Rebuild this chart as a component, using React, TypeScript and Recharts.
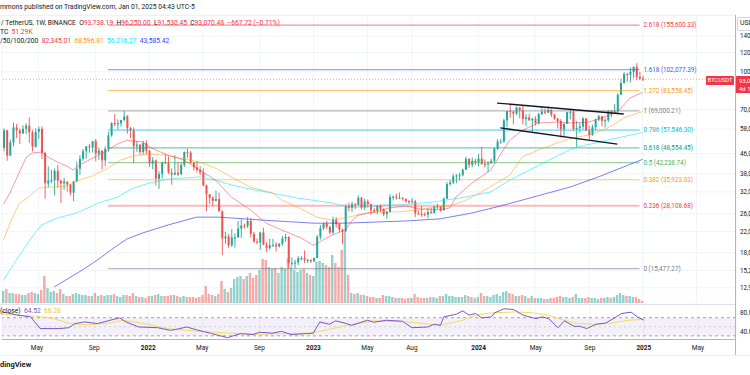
import React from 'react'
import { ComposedChart, Bar, Line, XAxis, YAxis, CartesianGrid, ReferenceLine, ReferenceArea } from 'recharts'

const FONT = 'Roboto, "Noto Sans", sans-serif'

// weekly BTCUSDT candles, [open, high, low, close] in thousand USD, weeks from Feb 15 2021
const candles2021 = [
  [48.6, 58.4, 47.0, 57.4], [57.4, 57.5, 43.0, 45.2], [45.2, 52.6, 45.0, 51.2], [51.2, 61.8, 49.3, 59.0],
  [59.0, 61.0, 53.3, 57.3], [57.3, 58.4, 50.4, 55.8], [55.8, 60.2, 55.5, 58.2], [58.2, 61.3, 55.5, 60.0],
  [60.0, 64.9, 51.0, 56.2], [56.2, 57.5, 47.0, 49.1], [49.1, 58.5, 48.8, 56.6], [56.6, 59.5, 52.9, 58.2],
  [58.2, 59.6, 43.8, 46.4], [46.4, 46.6, 30.0, 34.7], [34.7, 40.8, 33.4, 35.7], [35.7, 39.5, 34.8, 35.8],
  [35.8, 40.0, 31.0, 39.1], [39.1, 41.3, 33.3, 35.6], [35.6, 36.0, 28.8, 34.7], [34.7, 36.6, 32.7, 35.3],
  [35.3, 35.3, 32.1, 34.3], [34.3, 34.6, 31.0, 31.8], [31.8, 35.4, 29.3, 35.4], [35.4, 42.6, 35.2, 39.9],
  [39.9, 45.3, 37.6, 43.8], [43.8, 48.1, 43.0, 47.1], [47.1, 49.4, 43.9, 49.3], [49.3, 50.5, 46.4, 48.8],
  [48.8, 51.9, 46.5, 51.8], [51.8, 52.9, 42.8, 46.0], [46.0, 48.8, 43.4, 47.3], [47.3, 47.4, 39.6, 43.2],
  [43.2, 49.2, 40.8, 48.2], [48.2, 56.6, 46.9, 54.7], [54.7, 62.0, 54.0, 61.5], [61.5, 67.0, 59.5, 61.0],
  [61.0, 63.7, 57.8, 61.3], [61.3, 63.3, 59.4, 63.3], [63.3, 69.0, 62.3, 65.5], [65.5, 66.3, 55.6, 58.6],
  [58.6, 59.3, 53.3, 57.3], [57.3, 59.0, 42.0, 49.4], [49.4, 51.9, 46.8, 50.1], [50.1, 50.5, 45.5, 46.7],
  [46.7, 51.9, 45.6, 50.8], [50.8, 52.1, 45.7, 47.3],
]
const candles2022 = [
  [47.3, 47.6, 40.6, 41.9], [41.9, 44.5, 39.7, 43.1], [43.1, 43.5, 34.0, 36.3], [36.3, 38.9, 32.9, 37.9],
  [37.9, 42.6, 36.3, 42.4], [42.4, 45.8, 41.7, 42.2], [42.2, 44.8, 38.0, 38.4], [38.4, 40.0, 34.3, 37.7],
  [37.7, 45.4, 37.5, 38.4], [38.4, 42.6, 37.1, 37.8], [37.8, 42.4, 37.6, 41.3], [41.3, 46.9, 40.5, 46.8],
  [46.8, 48.2, 44.2, 46.4], [46.4, 47.2, 41.9, 42.2], [42.2, 42.4, 39.2, 40.4], [40.4, 42.9, 38.5, 39.5],
  [39.5, 40.8, 37.6, 38.5], [38.5, 40.0, 33.7, 34.1], [34.1, 34.3, 26.7, 31.3], [31.3, 31.3, 28.6, 30.3],
  [30.3, 30.7, 28.0, 29.4], [29.4, 32.4, 29.3, 29.9], [29.9, 31.8, 26.6, 26.6], [26.6, 26.9, 17.6, 20.6],
  [20.6, 21.9, 19.6, 21.0], [21.0, 21.5, 18.8, 19.3], [19.3, 22.5, 19.0, 20.8], [20.8, 21.6, 18.9, 20.8],
  [20.8, 24.3, 20.7, 22.6], [22.6, 24.7, 20.7, 23.3], [23.3, 23.7, 22.6, 23.2], [23.2, 25.2, 22.7, 24.3],
  [24.3, 25.0, 20.8, 21.5], [21.5, 21.9, 19.8, 20.0], [20.0, 20.6, 19.5, 19.8], [19.8, 21.9, 18.5, 21.8],
  [21.8, 22.8, 19.3, 19.4], [19.4, 19.9, 18.1, 18.8], [18.8, 20.5, 18.5, 19.3], [19.3, 20.5, 19.0, 19.4],
  [19.4, 19.9, 18.2, 19.1], [19.1, 19.7, 18.9, 19.6], [19.6, 21.1, 19.2, 20.6], [20.6, 21.5, 20.0, 20.9],
  [20.9, 21.0, 15.6, 16.3], [16.3, 17.2, 15.8, 16.3], [16.3, 16.8, 15.5, 16.4], [16.4, 17.4, 16.0, 17.1],
  [17.1, 17.4, 16.7, 17.1], [17.1, 18.4, 16.3, 16.8], [16.8, 17.0, 16.3, 16.8], [16.8, 16.9, 16.3, 16.6],
]
const candles2023 = [
  [16.6, 17.2, 16.5, 17.1], [17.1, 21.3, 17.1, 20.9], [20.9, 23.4, 20.4, 22.7], [22.7, 23.9, 22.3, 23.7],
  [23.7, 24.3, 22.5, 23.0], [23.0, 23.2, 21.4, 21.8], [21.8, 25.3, 21.4, 24.6], [24.6, 25.2, 22.8, 23.6],
  [23.6, 23.9, 21.9, 22.4], [22.4, 22.6, 19.5, 22.1], [22.1, 28.4, 21.9, 28.0], [28.0, 28.9, 26.6, 27.5],
  [27.5, 29.2, 26.5, 28.5], [28.5, 28.8, 27.2, 28.3], [28.3, 31.0, 28.2, 30.3], [30.3, 30.5, 27.1, 27.6],
  [27.6, 30.0, 26.9, 29.2], [29.2, 29.8, 27.7, 28.5], [28.5, 28.6, 25.8, 26.9], [26.9, 27.6, 26.3, 26.8],
  [26.8, 28.2, 25.9, 28.1], [28.1, 28.4, 26.5, 27.2], [27.2, 27.4, 25.4, 25.9], [25.9, 26.8, 24.8, 26.5],
  [26.5, 31.4, 26.3, 30.5], [30.5, 31.0, 29.5, 30.6], [30.6, 31.5, 29.7, 30.3], [30.3, 31.8, 29.9, 30.3],
  [30.3, 30.4, 29.5, 30.0], [30.0, 30.0, 28.9, 29.3], [29.3, 29.7, 28.6, 29.0], [29.0, 30.2, 28.7, 29.3],
  [29.3, 29.7, 25.2, 26.1], [26.1, 26.8, 25.8, 26.0], [26.0, 28.1, 25.3, 25.9], [25.9, 26.4, 25.4, 25.8],
  [25.8, 27.5, 24.9, 26.5], [26.5, 27.5, 26.0, 26.2], [26.2, 28.0, 26.0, 27.9], [27.9, 28.6, 27.2, 27.9],
  [27.9, 28.0, 26.5, 26.9], [26.9, 30.4, 26.8, 30.0], [30.0, 35.2, 29.9, 34.5], [34.5, 35.9, 33.9, 35.0],
  [35.0, 38.0, 34.5, 37.1], [37.1, 37.9, 34.8, 37.4], [37.4, 38.4, 35.6, 37.5], [37.5, 39.9, 37.1, 39.5],
  [39.5, 44.7, 39.4, 43.8], [43.8, 44.0, 40.2, 41.4], [41.4, 44.4, 40.5, 43.0], [43.0, 43.8, 41.3, 42.3],
]
const candles2024 = [
  [42.3, 45.9, 40.8, 43.9], [43.9, 49.0, 41.5, 41.7], [41.7, 43.6, 40.3, 41.6], [41.6, 42.8, 38.6, 42.0],
  [42.0, 43.9, 41.8, 43.0], [43.0, 48.6, 42.3, 48.3], [48.3, 52.8, 47.7, 51.6], [51.6, 52.9, 50.5, 51.7],
  [51.7, 64.0, 50.9, 63.1], [63.1, 69.0, 59.0, 68.9], [68.9, 73.8, 64.5, 68.4], [68.4, 68.9, 60.8, 67.2],
  [67.2, 71.8, 66.4, 71.3], [71.3, 71.3, 64.5, 69.4], [69.4, 72.8, 60.7, 63.9], [63.9, 66.9, 59.6, 64.9],
  [64.9, 67.2, 62.8, 63.1], [63.1, 64.7, 56.5, 64.0], [64.0, 65.5, 60.2, 61.5], [61.5, 67.7, 60.7, 66.9],
  [66.9, 71.9, 66.3, 68.5], [68.5, 70.6, 66.7, 67.8], [67.8, 72.0, 67.6, 69.6], [69.6, 70.2, 65.1, 66.6],
  [66.6, 67.0, 63.4, 64.2], [64.2, 64.5, 58.4, 62.7], [62.7, 63.8, 53.5, 58.0], [58.0, 61.4, 54.3, 61.0],
  [61.0, 68.4, 61.0, 68.2], [68.2, 69.4, 63.5, 68.3], [68.3, 70.1, 57.1, 58.1], [58.1, 62.7, 49.0, 58.7],
  [58.7, 61.8, 56.1, 59.5], [59.5, 65.0, 57.9, 64.2], [64.2, 64.5, 57.2, 57.3], [57.3, 59.8, 52.6, 54.8],
  [54.8, 60.6, 54.6, 59.1], [59.1, 64.1, 57.5, 63.6], [63.6, 66.5, 62.7, 65.6], [65.6, 65.6, 59.8, 62.8],
  [62.8, 64.5, 58.9, 63.2], [63.2, 69.4, 62.0, 69.0], [69.0, 69.5, 65.1, 67.9], [67.9, 73.6, 67.5, 68.8],
  [68.8, 81.5, 66.8, 80.4], [80.4, 93.3, 80.2, 89.8], [89.8, 99.6, 89.4, 97.9], [97.9, 98.9, 90.8, 97.2],
  [97.2, 104.1, 90.5, 99.8], [99.8, 105.3, 94.2, 104.5], [104.5, 108.4, 92.2, 95.2], [95.2, 99.9, 92.6, 93.74],
  [93.74, 96.25, 91.53, 93.07],
]

// weekly volume, thousand BTC
const volume2021 = [300, 350, 250, 250, 225, 225, 200, 200, 250, 275, 250, 225, 325, 675, 375, 275, 300, 250, 350, 225,
  175, 175, 225, 250, 225, 200, 200, 175, 175, 250, 175, 200, 175, 200, 200, 225, 175, 150, 200, 200, 175, 250, 175, 150, 150, 125]
const volume2022 = [175, 175, 200, 225, 175, 175, 175, 200, 200, 175, 150, 175, 150, 150, 150, 125, 150, 200, 425, 225,
  200, 175, 225, 550, 350, 275, 375, 600, 650, 675, 600, 675, 750, 625, 700, 825, 1100, 1075, 900, 850,
  875, 750, 900, 850, 1125, 900, 825, 775, 825, 850, 750, 700]
const volume2023 = [675, 1025, 1050, 1000, 950, 900, 1200, 1000, 900, 1325, 1800, 700, 250, 225, 250, 200, 200, 175, 150, 150,
  125, 125, 200, 175, 175, 150, 125, 125, 125, 100, 125, 125, 225, 150, 125, 125, 125, 150, 150, 125,
  175, 175, 225, 175, 175, 150, 150, 150, 200, 175, 150, 125]
const volume2024 = [150, 250, 175, 175, 150, 200, 225, 175, 275, 300, 250, 225, 175, 175, 200, 175, 125, 175, 125, 125,
  125, 100, 100, 125, 125, 150, 175, 150, 150, 125, 150, 225, 125, 125, 125, 150, 125, 125, 100, 125,
  125, 150, 125, 150, 200, 250, 200, 175, 175, 150, 150, 100, 51.29]

// moving averages, [week, thousand USD]
const ma20 = [[0, 28.5], [2, 31.7], [5, 38.6], [7, 44.1], [9, 46.3], [12, 46.7], [14, 44.6], [17, 42.5], [20, 40.9], [22, 39.4],
  [24, 41.3], [27, 43.3], [30, 45.4], [33, 47.6], [36, 50.4], [39, 52.3], [41, 51.8], [44, 51.4], [46, 49.0], [49, 47.1],
  [52, 45.4], [57, 43.3], [62, 39.4], [67, 35.8], [72, 30.5], [78, 27.0], [83, 23.8], [88, 22.3], [94, 20.7], [98, 19.3],
  [101, 20.3], [104, 21.3], [108, 22.3], [110, 24.3], [112, 25.7], [117, 26.5], [122, 27.5], [127, 28.0], [132, 27.2],
  [138, 27.0], [141, 27.5], [143, 30.5], [148, 34.8], [154, 39.4], [157, 45.5], [160, 52.3], [164, 57.5], [169, 61.5],
  [175, 62.1], [180, 61.5], [185, 62.1], [189, 64.5], [194, 68.2], [198, 77.9], [202, 82.35]]
const ma50 = [[0, 20.3], [2, 23.8], [5, 28.8], [8, 30.5], [11, 33.2], [15, 33.5], [20, 33.8], [24, 35.8], [28, 37.2], [33, 40.1],
  [37, 43.3], [41, 45.0], [46, 45.8], [51, 45.4], [62, 42.5], [67, 40.1], [72, 36.9], [78, 33.5], [85, 31.7], [88, 29.6],
  [93, 27.7], [99, 25.2], [104, 24.5], [109, 25.2], [115, 26.2], [120, 26.5], [125, 26.5], [131, 27.0], [136, 27.7],
  [141, 28.0], [146, 29.5], [151, 32.0], [154, 33.7], [160, 37.5], [164, 44.6], [169, 47.6], [175, 50.9], [180, 53.4],
  [185, 54.9], [191, 58.7], [196, 64.5], [202, 68.6]]
const ma100 = [[0, 13.9], [4, 16.8], [9, 20.9], [12, 23.4], [17, 25.0], [23, 26.2], [30, 28.8], [36, 30.5], [41, 33.2],
  [46, 34.8], [52, 36.2], [57, 36.5], [62, 36.9], [67, 35.8], [72, 34.2], [78, 32.9], [93, 30.2], [104, 28.8], [109, 27.7],
  [115, 27.7], [120, 28.3], [125, 28.3], [136, 29.1], [146, 30.5], [154, 32.0], [160, 35.8], [168, 40.5], [180, 48.5],
  [194, 53.4], [202, 56.2]]
const ma200 = [[16, 13.0], [25, 15.3], [30, 16.9], [34, 18.5], [39, 20.5], [44, 21.7], [52, 23.4], [61, 25.2], [68, 25.2],
  [82, 24.5], [98, 23.8], [108, 23.8], [127, 24.3], [138, 24.8], [148, 26.2], [157, 28.0], [179, 33.5], [188, 36.9], [202, 43.6]]

// RSI 14 and its moving average, [week, value]
const rsi = [[0, 83], [5, 75.6], [9, 71.8], [12, 46], [18, 46], [21, 48], [23, 57], [26, 60.7], [30, 57], [34, 64.4],
  [37, 69.6], [39, 60.7], [43, 49.6], [49, 48], [53, 42], [56, 46], [58, 49.6], [62, 42], [66, 35], [71, 26], [75, 35],
  [79, 33], [81, 38], [85, 36], [88, 40], [91, 33], [96, 35], [98, 36], [100, 60.7], [103, 55.6], [105, 63], [108, 58],
  [110, 53], [115, 64.4], [117, 60], [121, 64.4], [126, 62.2], [129, 48], [134, 49.6], [136, 55.6], [138, 53.3],
  [139, 71.8], [143, 77.8], [145, 85.1], [147, 75.6], [149, 79.3], [151, 69.6], [154, 71.8], [155, 80.7], [158, 89.6],
  [161, 88.1], [164, 75.6], [168, 68.1], [170, 71.8], [172, 68.1], [175, 48], [177, 63], [180, 51.1], [182, 51.1],
  [184, 46], [187, 55.6], [190, 58.4], [193, 70.4], [195, 79.3], [198, 82.2], [200, 71.8], [202, 64.52]]
const rsiMa = [[0, 78], [5, 75.6], [11, 73.3], [16, 68.2], [21, 58], [26, 54], [34, 58.4], [38, 64.4], [44, 58.4],
  [52, 46], [58, 42.2], [66, 38.4], [72, 36.2], [79, 33.3], [88, 34.9], [97, 36.2], [100, 40], [104, 46], [110, 55.6],
  [117, 62.9], [128, 60.7], [138, 53.3], [145, 64.4], [149, 75.6], [154, 80.7], [162, 82.9], [167, 80.7], [172, 75.6],
  [176, 66], [181, 57.1], [187, 55.6], [191, 57.1], [197, 64.4], [202, 66.28]]

// Fibonacci levels
const fibRatios = ['0', '0.236', '0.382', '0.5', '0.618', '0.786', '1', '1.272', '1.618', '2.618']
const fibPrices = [15477.27, 28108.68, 35923.03, 42238.74, 48554.45, 57546.30, 69000.21, 83558.45, 102077.39, 155600.33]
const fibColors = ['#787b86', '#f23645', '#ff9800', '#4caf50', '#089981', '#00bcd4', '#787b86', '#ff9800', '#2962ff', '#f23645']

// channel trend lines [week, thousand USD]
const channelUpper = [[156, 74.3], [196, 67.0]]
const channelLower = [[157, 58.7], [194, 50.4]]

const timeTicks = [11, 29, 46, 63, 81, 98, 115, 129, 150, 168, 185, 202, 219]
const timeLabels = ['May', 'Sep', '2022', 'May', 'Sep', '2023', 'May', 'Aug', '2024', 'May', 'Sep', '2025', 'May']
const priceTicks = [12.9, 15.2, 18, 22, 26, 32, 38, 46, 58, 70, 100, 120, 140]
const lastPrice = 93.07048

const SLOTS = 232
const candles = [...candles2021, ...candles2022, ...candles2023, ...candles2024]
const volumes = [...volume2021, ...volume2022, ...volume2023, ...volume2024]
const asMap = (pts: number[][]) => new Map(pts.map(([i, v]) => [i, v]))
const m20 = asMap(ma20), m50 = asMap(ma50), m100 = asMap(ma100), m200 = asMap(ma200)
const mRsi = asMap(rsi), mRsiMa = asMap(rsiMa)

const rows = Array.from({ length: SLOTS }, (_, i) => {
  const k = candles[i]
  return {
    i,
    o: k?.[0], h: k?.[1], l: k?.[2], c: k?.[3],
    range: k ? [k[2], k[1]] : undefined,
    up: k ? k[3] >= k[0] : true,
    vol: volumes[i],
    ma20: m20.get(i), ma50: m50.get(i), ma100: m100.get(i), ma200: m200.get(i),
    rsi: mRsi.get(i), rsiMa: mRsiMa.get(i),
  }
})

const UP = '#26a69a'
const DOWN = '#ef5350'

function Candle(props: any) {
  const { x, y, width, height, payload } = props
  if (!payload || payload.o == null) return null
  const { o, h, l, c } = payload
  const span = Math.log(h / l)
  const py = (v: number) => (span > 0 ? y + (height * Math.log(h / v)) / span : y)
  const color = c >= o ? UP : DOWN
  const top = py(Math.max(o, c))
  const bot = py(Math.min(o, c))
  const cx = x + width / 2
  return (
    <g>
      <line x1={cx} x2={cx} y1={y} y2={y + height} stroke={color} strokeWidth={0.9} />
      <rect x={x} y={top} width={width} height={Math.max(1, bot - top)} fill={color} />
    </g>
  )
}

function VolBar(props: any) {
  const { x, y, width, height, payload } = props
  if (!payload || payload.vol == null || !(height > 0)) return null
  return <rect x={x} y={y} width={width} height={height} fill={payload.up ? UP : DOWN} fillOpacity={0.5} />
}

function TimeTick(props: any) {
  const { x, y, payload } = props
  const label = timeLabels[timeTicks.indexOf(payload.value)]
  const isYear = /^\d{4}$/.test(label)
  return (
    <text x={x} y={y} dy="0.71em" textAnchor="middle" fontSize={6.5} fontWeight={isYear ? 700 : 400} fill="#131722" fontFamily={FONT}>
      {label}
    </text>
  )
}

const fmtPrice = (v: number) => (v * 1000).toLocaleString('en-US', { minimumFractionDigits: 2, maximumFractionDigits: 2 })

function FibLabel(text: string, color: string) {
  return (p: any) => {
    const vb = p.viewBox || {}
    return (
      <text x={(vb.x ?? 0) + (vb.width ?? 0) + 4} y={vb.y ?? 0} dy="0.35em" fontSize={6.3} fill={color} fontFamily={FONT}>
        {text}
      </text>
    )
  }
}

const Txt = ({ x, y, color = '#131722', size = 6.7, weight = 400, children }: any) => (
  <div style={{ position: 'absolute', left: x, top: y - size * 0.6, fontSize: size, lineHeight: 1, color, fontWeight: weight, whiteSpace: 'nowrap' }}>
    {children}
  </div>
)

export default function App() {
  const red = '#f23645'
  return (
    <div style={{ position: 'absolute', left: 0, top: 0, width: 750, height: 375, background: '#fff', overflow: 'hidden', fontFamily: FONT }}>
      <div style={{ position: 'absolute', left: 0, top: 0 }}>
        <ComposedChart width={750} height={303} data={rows} margin={{ top: 15, right: 0, bottom: 0, left: 2 }} barGap={0} barCategoryGap={0}>
          <XAxis xAxisId="main" dataKey="i" hide ticks={timeTicks} interval={0} />
          <XAxis xAxisId="vol" dataKey="i" hide />
          <YAxis yAxisId="price" orientation="right" width={14} scale="log" domain={[11.17, 171.2]} allowDataOverflow
            ticks={priceTicks} interval={0} tickFormatter={fmtPrice} axisLine={false} tickLine={false} tickSize={4} tickMargin={0}
            tick={{ fontSize: 6.3, fill: '#131722', fontFamily: FONT }} />
          <YAxis yAxisId="vol" hide domain={[0, 7200]} />
          <CartesianGrid xAxisId="main" yAxisId="price" stroke="#eef1f6" strokeWidth={0.8} />
          <Bar xAxisId="vol" yAxisId="vol" dataKey="vol" barSize={2.4} shape={VolBar} isAnimationActive={false} />
          {fibPrices.map((p, k) => (
            <ReferenceLine key={k} xAxisId="main" yAxisId="price"
              segment={[{ x: 33, y: p / 1000 }, { x: 201, y: p / 1000 }]}
              stroke={fibColors[k]} strokeOpacity={k === 1 ? 0.35 : 0.55} strokeWidth={k === 1 ? 2 : 1.2}
              label={FibLabel(`${fibRatios[k]} (${p.toLocaleString('en-US', { minimumFractionDigits: 2 })})`, fibColors[k])} />
          ))}
          <ReferenceLine xAxisId="main" yAxisId="price" y={lastPrice} stroke={red} strokeOpacity={0.6} strokeDasharray="1 2" strokeWidth={0.8} />
          <Line xAxisId="main" yAxisId="price" dataKey="ma200" stroke="#4b44f0" strokeOpacity={0.7} strokeWidth={1} dot={false} connectNulls isAnimationActive={false} />
          <Line xAxisId="main" yAxisId="price" dataKey="ma100" stroke="#00e5ff" strokeOpacity={0.55} strokeWidth={1} dot={false} connectNulls isAnimationActive={false} />
          <Line xAxisId="main" yAxisId="price" dataKey="ma50" stroke="#ff9800" strokeOpacity={0.5} strokeWidth={1} dot={false} connectNulls isAnimationActive={false} />
          <Line xAxisId="main" yAxisId="price" dataKey="ma20" stroke="#f23645" strokeOpacity={0.5} strokeWidth={1} dot={false} connectNulls isAnimationActive={false} />
          <Bar xAxisId="main" yAxisId="price" dataKey="range" barSize={2} shape={Candle} isAnimationActive={false} />
          <ReferenceLine xAxisId="main" yAxisId="price" segment={channelUpper.map(([x, y]) => ({ x, y }))} stroke="#131722" strokeWidth={1.3} />
          <ReferenceLine xAxisId="main" yAxisId="price" segment={channelLower.map(([x, y]) => ({ x, y }))} stroke="#131722" strokeWidth={1.3} />
        </ComposedChart>
      </div>

      <div style={{ position: 'absolute', left: 0, top: 295 }}>
        <ComposedChart width={750} height={61} data={rows} margin={{ top: 10, right: 0, bottom: 0, left: 2 }}>
          <XAxis dataKey="i" ticks={timeTicks} interval={0} height={16.5} tick={TimeTick} axisLine={{ stroke: '#b2b5be' }} tickLine={false} tickSize={4} tickMargin={2} />
          <YAxis orientation="right" width={14} domain={[22, 98]} ticks={[40, 80]} tickFormatter={(v: number) => v.toFixed(2)}
            axisLine={false} tickLine={false} tickSize={4} tickMargin={0} tick={{ fontSize: 6.3, fill: '#131722', fontFamily: FONT }} />
          <CartesianGrid horizontal={false} stroke="#eef1f6" strokeWidth={0.8} />
          <ReferenceArea y1={30} y2={70} fill="#7e57c2" fillOpacity={0.09} stroke="none" />
          <ReferenceLine y={70} stroke="#787b86" strokeDasharray="3 3" strokeWidth={0.7} />
          <ReferenceLine y={50} stroke="#787b86" strokeOpacity={0.5} strokeDasharray="2 3" strokeWidth={0.6} />
          <ReferenceLine y={30} stroke="#787b86" strokeDasharray="3 3" strokeWidth={0.7} />
          <Line dataKey="rsiMa" stroke="#f5dc5a" strokeWidth={1} dot={false} connectNulls isAnimationActive={false} />
          <Line dataKey="rsi" stroke="#7e57c2" strokeWidth={1} dot={false} connectNulls isAnimationActive={false} />
        </ComposedChart>
      </div>

      {/* pane borders */}
      <div style={{ position: 'absolute', left: 0, top: 15, width: 736, height: 1, background: '#eef1f6' }} />
      <div style={{ position: 'absolute', left: 0, top: 304, width: 736, height: 1, background: '#e0e3eb' }} />
      <div style={{ position: 'absolute', left: 0, top: 355, width: 750, height: 1, background: '#eef1f6' }} />
      <div style={{ position: 'absolute', left: 735, top: 15, width: 1, height: 340, background: '#b2b5be' }} />

      {/* header */}
      <Txt x={0} y={8}>mmons published on TradingView.com, Jan 01, 2025 04:43 UTC-5</Txt>
      <Txt x={1} y={24}>
        / TetherUS, 1W, BINANCE&nbsp;&nbsp;O<span style={{ color: red }}>93,738.19</span>&nbsp;&nbsp;H<span style={{ color: red }}>96,250.00</span>
        &nbsp;&nbsp;L<span style={{ color: red }}>91,530.45</span>&nbsp;&nbsp;C<span style={{ color: red }}>93,070.48</span>&nbsp;&nbsp;<span style={{ color: red }}>−667.72 (−0.71%)</span>
      </Txt>
      <Txt x={0} y={33}>TC&nbsp;&nbsp;<span style={{ color: red }}>51.29K</span></Txt>
      <Txt x={0} y={42}>
        /50/100/200&nbsp;&nbsp;<span style={{ color: '#f23645' }}>82,345.01</span>&nbsp;&nbsp;<span style={{ color: '#ff9800' }}>68,596.81</span>
        &nbsp;&nbsp;<span style={{ color: '#00e5ff' }}>56,216.27</span>&nbsp;&nbsp;<span style={{ color: '#3d3dff' }}>43,585.42</span>
      </Txt>
      <div style={{ position: 'absolute', left: 737, top: 17, width: 20, height: 14, border: '1px solid #d1d4dc', borderRadius: 2, boxSizing: 'border-box' }} />
      <Txt x={740} y={24} size={7}>USDT</Txt>

      {/* RSI legend */}
      <Txt x={0} y={312}>(close)&nbsp;&nbsp;<span style={{ color: '#7e57c2' }}>64.52</span>&nbsp;&nbsp;<span style={{ color: '#e8c83a' }}>66.28</span></Txt>

      {/* last price labels */}
      <div style={{ position: 'absolute', left: 706, top: 76, width: 28, height: 9, background: red, color: '#fff', fontSize: 5.8, lineHeight: '9px', textAlign: 'center', borderRadius: 1 }}>BTCUSDT</div>
      <div style={{ position: 'absolute', left: 736, top: 76, width: 30, height: 16, background: red, color: '#fff', fontSize: 6, lineHeight: '7.5px', paddingLeft: 3, paddingTop: 1 }}>
        93,070.48<br />4d 19h
      </div>

      <Txt x={0} y={365} size={7.5} weight={700}>dingView</Txt>
    </div>
  )
}
